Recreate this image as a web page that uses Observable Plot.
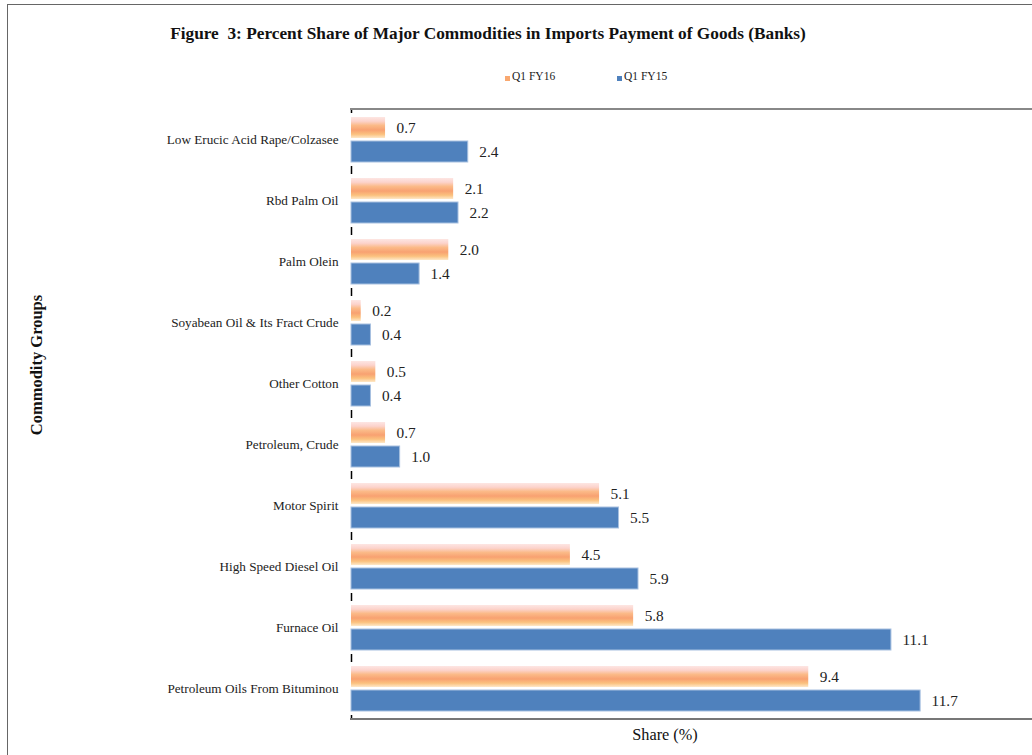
<!DOCTYPE html>
<html>
<head>
<meta charset="utf-8">
<script src="https://cdn.jsdelivr.net/npm/d3@7"></script>
<script src="https://cdn.jsdelivr.net/npm/@observablehq/plot@0.6"></script>
<style>
  body { margin: 0; background: #fff; }
  #wrap { position: relative; width: 1032px; height: 755px; overflow: hidden; background: #fff;
          font-family: "Liberation Serif", "Times New Roman", serif; color: #111; }
  #chart { position: absolute; left: 0; top: 0; }
  .abs { position: absolute; }
  #outer { left: 7px; top: 4px; width: 1100px; height: 800px; border-left: 1.5px solid #666; border-top: 1.5px solid #666; }
  #title { left: 0; width: 976px; top: 24px; text-align: center; font-weight: bold; font-size: 17.3px; white-space: pre; }
  .leg { top: 70px; font-size: 11.5px; color: #222; }
  .sw { width: 5px; height: 5px; top: 76px; }
  #ylab { left: 37px; top: 365px; transform: translate(-50%, -50%) rotate(-90deg); font-weight: bold; font-size: 16.5px; white-space: nowrap; }
  #xlab { left: 665px; top: 735px; transform: translate(-50%, -50%); font-size: 16.3px; white-space: nowrap; }
  #topline { left: 350px; top: 108px; width: 682px; height: 0; border-top: 2px solid #888; }
  #botline { left: 350px; top: 718px; width: 682px; height: 0; border-top: 2px solid #777; }
</style>
</head>
<body>
<div id="wrap">
  <div id="chart"></div>
  <div id="outer" class="abs"></div>
  <div id="topline" class="abs"></div>
  <div id="botline" class="abs"></div>
  <div id="title" class="abs"></div>
  <div id="legend"></div>
  <div id="ylab" class="abs"></div>
  <div id="xlab" class="abs"></div>
</div>
<script>
const titleText = "Figure  3: Percent Share of Major Commodities in Imports Payment of Goods (Banks)";
const yTitle = "Commodity Groups";
const xTitle = "Share (%)";
const seriesNames = ["Q1 FY16", "Q1 FY15"];
const seriesColors = ["#f9a870", "#4f81bd"];
const categories = [
  "Low Erucic Acid Rape/Colzasee",
  "Rbd Palm Oil",
  "Palm Olein",
  "Soyabean Oil & Its Fract Crude",
  "Other Cotton",
  "Petroleum, Crude",
  "Motor Spirit",
  "High Speed Diesel Oil",
  "Furnace Oil",
  "Petroleum Oils From Bituminou"
];
const fy16 = [0.7, 2.1, 2.0, 0.2, 0.5, 0.7, 5.1, 4.5, 5.8, 9.4];
const fy15 = [2.4, 2.2, 1.4, 0.4, 0.4, 1.0, 5.5, 5.9, 11.1, 11.7];

const data = categories.flatMap((c, i) => [
  {category: c, series: seriesNames[0], value: fy16[i]},
  {category: c, series: seriesNames[1], value: fy15[i]}
]);

const chart = Plot.plot({
  width: 1032,
  height: 755,
  marginTop: 109,
  marginBottom: 36,
  marginLeft: 351,
  marginRight: 0,
  style: {fontFamily: "'Liberation Serif', 'Times New Roman', serif", fontSize: "13.2px", background: "transparent", color: "#222"},
  x: {domain: [0, 14], axis: null},
  y: {domain: seriesNames, paddingInner: 0.12, paddingOuter: 0.282, axis: null},
  fy: {domain: categories, padding: 0, axis: "left", label: null, tickSize: 0, tickPadding: 13},
  marks: [
    Plot.barX(data.filter(d => d.series === seriesNames[0]), {x: "value", y: "series", fy: "category", fill: "url(#orangeGrad)"}),
    Plot.barX(data.filter(d => d.series === seriesNames[1]), {x: "value", y: "series", fy: "category", fill: seriesColors[1], stroke: "#a7c0e0", strokeWidth: 1}),
    Plot.text(data, {x: "value", y: "series", fy: "category", text: d => d.value.toFixed(1), dx: 11, textAnchor: "start", fontSize: 15.3, fill: "#222"}),
    Plot.ruleX([0], {insetBottom: 57, stroke: "#000", strokeWidth: 1.5}),
    Plot.ruleX([0], {insetTop: 57, stroke: "#000", strokeWidth: 1.5})
  ]
});

// gradient for the orange series
const defs = d3.select(chart).insert("defs", ":first-child");
const g = defs.append("linearGradient").attr("id", "orangeGrad").attr("x1", 0).attr("y1", 0).attr("x2", 0).attr("y2", 1);
[[0, "#fde6e3"], [0.2, "#fcd3cc"], [0.4, "#fbba88"], [0.62, "#f8a171"], [0.82, "#fbc17e"], [1, "#fee8c8"]]
  .forEach(([o, c]) => g.append("stop").attr("offset", o).attr("stop-color", c));

document.getElementById("chart").appendChild(chart);

document.getElementById("title").textContent = titleText;
document.getElementById("ylab").textContent = yTitle;
document.getElementById("xlab").textContent = xTitle;

const legend = document.getElementById("legend");
const legX = [505, 617];
seriesNames.forEach((s, i) => {
  const sw = document.createElement("div");
  sw.className = "abs sw";
  sw.style.left = legX[i] + "px";
  sw.style.background = seriesColors[i];
  legend.appendChild(sw);
  const t = document.createElement("div");
  t.className = "abs leg";
  t.style.left = (legX[i] + 7) + "px";
  t.textContent = s;
  legend.appendChild(t);
});
</script>
</body>
</html>
